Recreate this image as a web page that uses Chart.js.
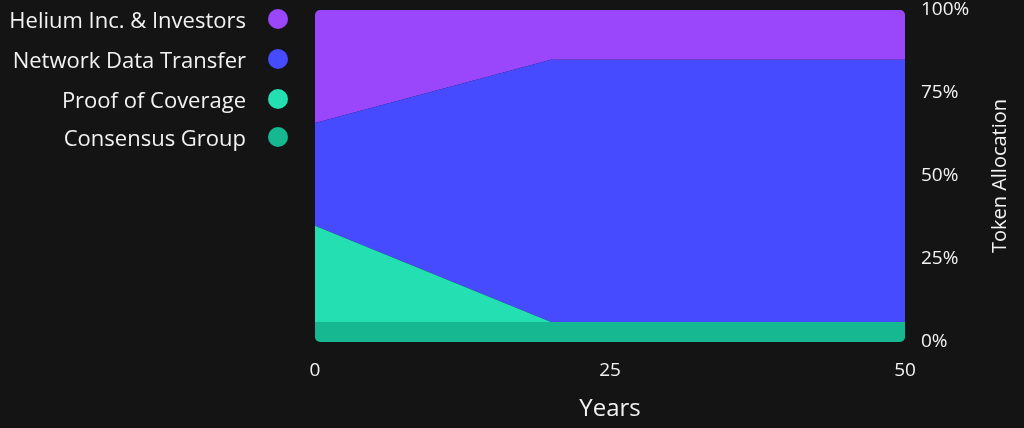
<!DOCTYPE html>
<html>
<head>
<meta charset="utf-8">
<script src="https://cdn.jsdelivr.net/npm/chart.js@4"></script>
<style>
  html, body { margin: 0; padding: 0; background: #141414; }
  #wrap { position: relative; width: 1024px; height: 428px; }
  canvas { position: absolute; left: 0; top: 0; }
  #legend { position: absolute; left: 0; top: 0; width: 300px; font-family: "Open Sans", "Noto Sans", sans-serif; }
  .row { position: absolute; right: 12px; height: 26px; display: flex; align-items: center; color: #f2f2f2; font-size: 22px; white-space: nowrap; }
  .dot { width: 20px; height: 20px; border-radius: 50%; margin-left: 22px; }
</style>
</head>
<body>
<div id="wrap">
  <canvas id="c" width="1024" height="428"></canvas>
  <div id="legend"></div>
</div>
<script>
// Data
const years = [0, 20, 50];
const consensusGroup = [6, 6, 6];
const proofOfCoverage = [29, 0, 0];
const networkDataTransfer = [31, 79, 79];
const heliumInvestors = [34, 15, 15];
const yTicks = [0, 25, 50, 75, 100];
const xTicks = [0, 25, 50];

const seriesNames = ['Consensus Group', 'Proof of Coverage', 'Network Data Transfer', 'Helium Inc. & Investors'];
const seriesValues = [consensusGroup, proofOfCoverage, networkDataTransfer, heliumInvestors];
const seriesColors = ['#15b891', '#24dfb2', '#474bff', '#9a47fb'];

const datasets = seriesNames.map((name, i) => ({
  label: name,
  data: years.map((x, j) => ({ x: x, y: seriesValues[i][j] })),
  backgroundColor: seriesColors[i],
  borderColor: seriesColors[i],
  borderWidth: 0,
  pointRadius: 0,
  tension: 0,
  fill: i === 0 ? 'start' : '-1'
}));

// HTML legend (top to bottom: reverse stacking order)
const legend = document.getElementById('legend');
const rowTops = [6, 46, 86, 124];
seriesNames.slice().reverse().forEach((name, k) => {
  const idx = seriesNames.length - 1 - k;
  const row = document.createElement('div');
  row.className = 'row';
  row.style.top = rowTops[k] + 'px';
  row.innerHTML = '<span>' + name + '</span><span class="dot" style="background:' + seriesColors[idx] + '"></span>';
  legend.appendChild(row);
});

const FONT = '"Open Sans", "Noto Sans", sans-serif';

const roundClip = {
  id: 'roundClip',
  beforeDatasetsDraw(chart) {
    const a = chart.chartArea, r = 5, ctx = chart.ctx;
    ctx.save();
    ctx.beginPath();
    ctx.roundRect(a.left, a.top, a.right - a.left, a.bottom - a.top, r);
    ctx.clip();
  },
  afterDatasetsDraw(chart) { chart.ctx.restore(); }
};

// Y-axis title reading bottom-to-top, like the reference
const yTitle = {
  id: 'yTitle',
  afterDraw(chart) {
    const a = chart.chartArea, ctx = chart.ctx;
    ctx.save();
    ctx.translate(1000, (a.top + a.bottom) / 2);
    ctx.rotate(-Math.PI / 2);
    ctx.fillStyle = '#f2f2f2';
    ctx.font = '20px ' + FONT;
    ctx.textAlign = 'center';
    ctx.textBaseline = 'middle';
    ctx.fillText('Token Allocation', 0, 0);
    ctx.restore();
  }
};

new Chart(document.getElementById('c'), {
  type: 'line',
  data: { datasets },
  plugins: [roundClip, yTitle],
  options: {
    responsive: false,
    animation: false,
    layout: { padding: { left: 315, top: 10, right: 0, bottom: 0 } },
    plugins: { legend: { display: false }, tooltip: { enabled: false } },
    elements: { line: { borderWidth: 0 } },
    scales: {
      x: {
        type: 'linear',
        min: 0, max: 50,
        afterBuildTicks: s => { s.ticks = xTicks.map(v => ({ value: v })); },
        afterFit: s => { s.height = 86; s.paddingLeft = 0; s.paddingRight = 0; },
        grid: { display: false, drawTicks: false },
        border: { display: false },
        ticks: { color: '#f2f2f2', font: { family: FONT, size: 19 }, padding: 17, maxRotation: 0 },
        title: { display: true, text: 'Years', color: '#f2f2f2', font: { family: FONT, size: 24 }, padding: { top: 8 } }
      },
      y: {
        position: 'right',
        stacked: true,
        min: 0, max: 100,
        afterBuildTicks: s => { s.ticks = yTicks.map(v => ({ value: v })); },
        afterFit: s => { s.width = 119; s.paddingTop = 0; s.paddingBottom = 0; },
        grid: { display: false, drawTicks: false },
        border: { display: false },
        ticks: { color: '#f2f2f2', font: { family: FONT, size: 19 }, padding: 16, callback: v => v + '%' },
        title: { display: false }
      }
    }
  }
});
</script>
</body>
</html>
